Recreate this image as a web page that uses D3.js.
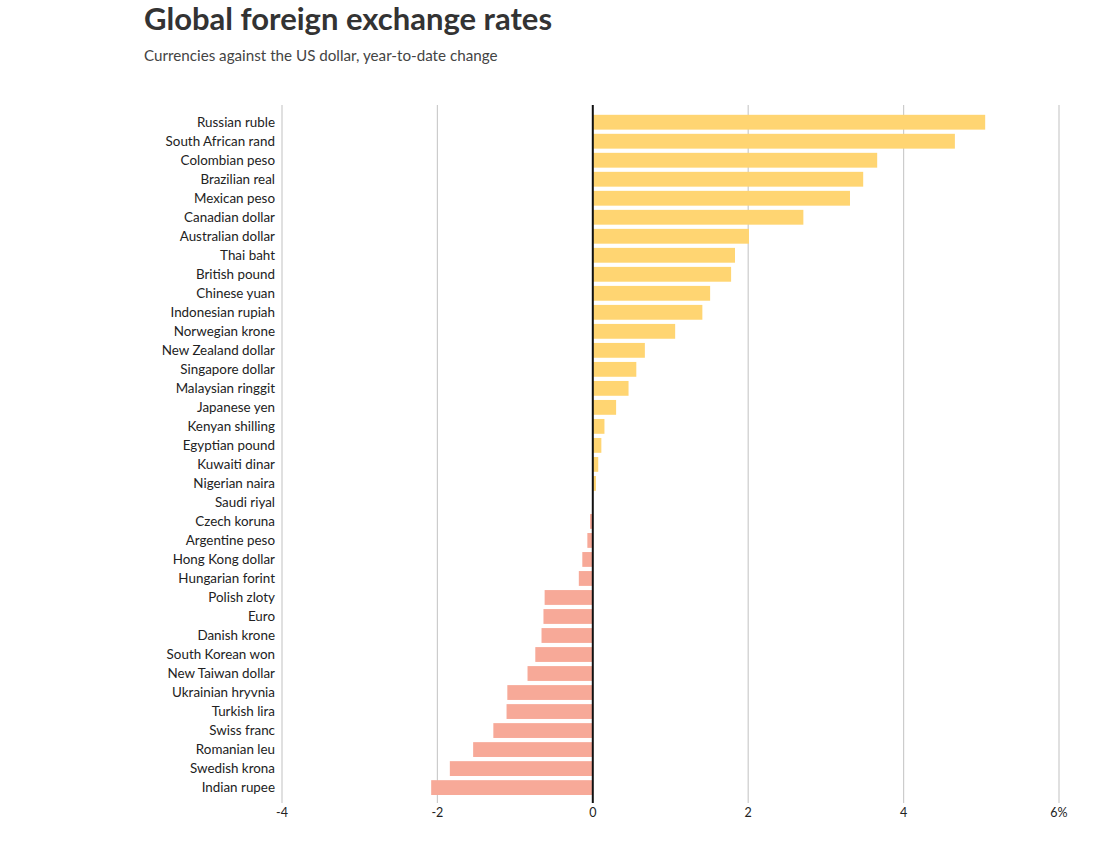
<!DOCTYPE html>
<html>
<head>
<meta charset="utf-8">
<script src="https://cdn.jsdelivr.net/npm/d3@7"></script>
<style>
  body { margin: 0; background: #fff; }
  svg { display: block; font-family: Lato, "Open Sans", sans-serif; }
</style>
</head>
<body>
<svg id="chart" width="1097" height="852"></svg>
<script>
const currencies = ["Russian ruble","South African rand","Colombian peso","Brazilian real","Mexican peso","Canadian dollar","Australian dollar","Thai baht","British pound","Chinese yuan","Indonesian rupiah","Norwegian krone","New Zealand dollar","Singapore dollar","Malaysian ringgit","Japanese yen","Kenyan shilling","Egyptian pound","Kuwaiti dinar","Nigerian naira","Saudi riyal","Czech koruna","Argentine peso","Hong Kong dollar","Hungarian forint","Polish zloty","Euro","Danish krone","South Korean won","New Taiwan dollar","Ukrainian hryvnia","Turkish lira","Swiss franc","Romanian leu","Swedish krona","Indian rupee"];
const changes = [5.05,4.66,3.66,3.48,3.31,2.71,2.01,1.83,1.78,1.51,1.41,1.06,0.67,0.56,0.46,0.30,0.15,0.11,0.07,0.04,0.0,-0.035,-0.07,-0.135,-0.18,-0.62,-0.635,-0.66,-0.74,-0.84,-1.10,-1.11,-1.28,-1.54,-1.84,-2.08];
const tickValues = [-4,-2,0,2,4,6];
const tickLabels = ["-4","-2","0","2","4","6%"];

const svg = d3.select("#chart");
const x = d3.scaleLinear().domain([-4, 6]).range([282, 1059]);
const y = d3.scaleBand().domain(currencies).range([111, 798.8]).paddingInner(0.22).paddingOuter(0.2);

svg.append("text").attr("x", 144).attr("y", 30)
  .attr("font-size", 31).attr("font-weight", 700).attr("fill", "#333")
  .text("Global foreign exchange rates");
svg.append("text").attr("x", 144).attr("y", 61)
  .attr("font-size", 15.2).attr("fill", "#444")
  .text("Currencies against the US dollar, year-to-date change");

// gridlines
svg.append("g").selectAll("line").data(tickValues.filter(d => d !== 0)).join("line")
  .attr("x1", d => x(d)).attr("x2", d => x(d))
  .attr("y1", 105).attr("y2", 803)
  .attr("stroke", "#ccc").attr("stroke-width", 1.2);

// tick labels
svg.append("g").selectAll("text").data(tickValues).join("text")
  .attr("x", d => x(d)).attr("y", 817)
  .attr("text-anchor", "middle").attr("font-size", 12.5).attr("fill", "#222")
  .text((d, i) => tickLabels[i]);

// bars
svg.append("g").selectAll("rect").data(currencies).join("rect")
  .attr("x", (d, i) => x(Math.min(0, changes[i])))
  .attr("width", (d, i) => Math.abs(x(changes[i]) - x(0)))
  .attr("y", d => y(d))
  .attr("height", y.bandwidth())
  .attr("fill", (d, i) => changes[i] >= 0 ? "#ffd572" : "#f7a998");

// zero line
svg.append("line").attr("x1", x(0)).attr("x2", x(0)).attr("y1", 105).attr("y2", 803)
  .attr("stroke", "#111").attr("stroke-width", 2);

// category labels
svg.append("g").selectAll("text").data(currencies).join("text")
  .attr("x", 275).attr("y", d => y(d) + y.bandwidth() / 2)
  .attr("dy", "0.35em").attr("text-anchor", "end")
  .attr("font-size", 13.4).attr("fill", "#222")
  .text(d => d);
</script>
</body>
</html>
